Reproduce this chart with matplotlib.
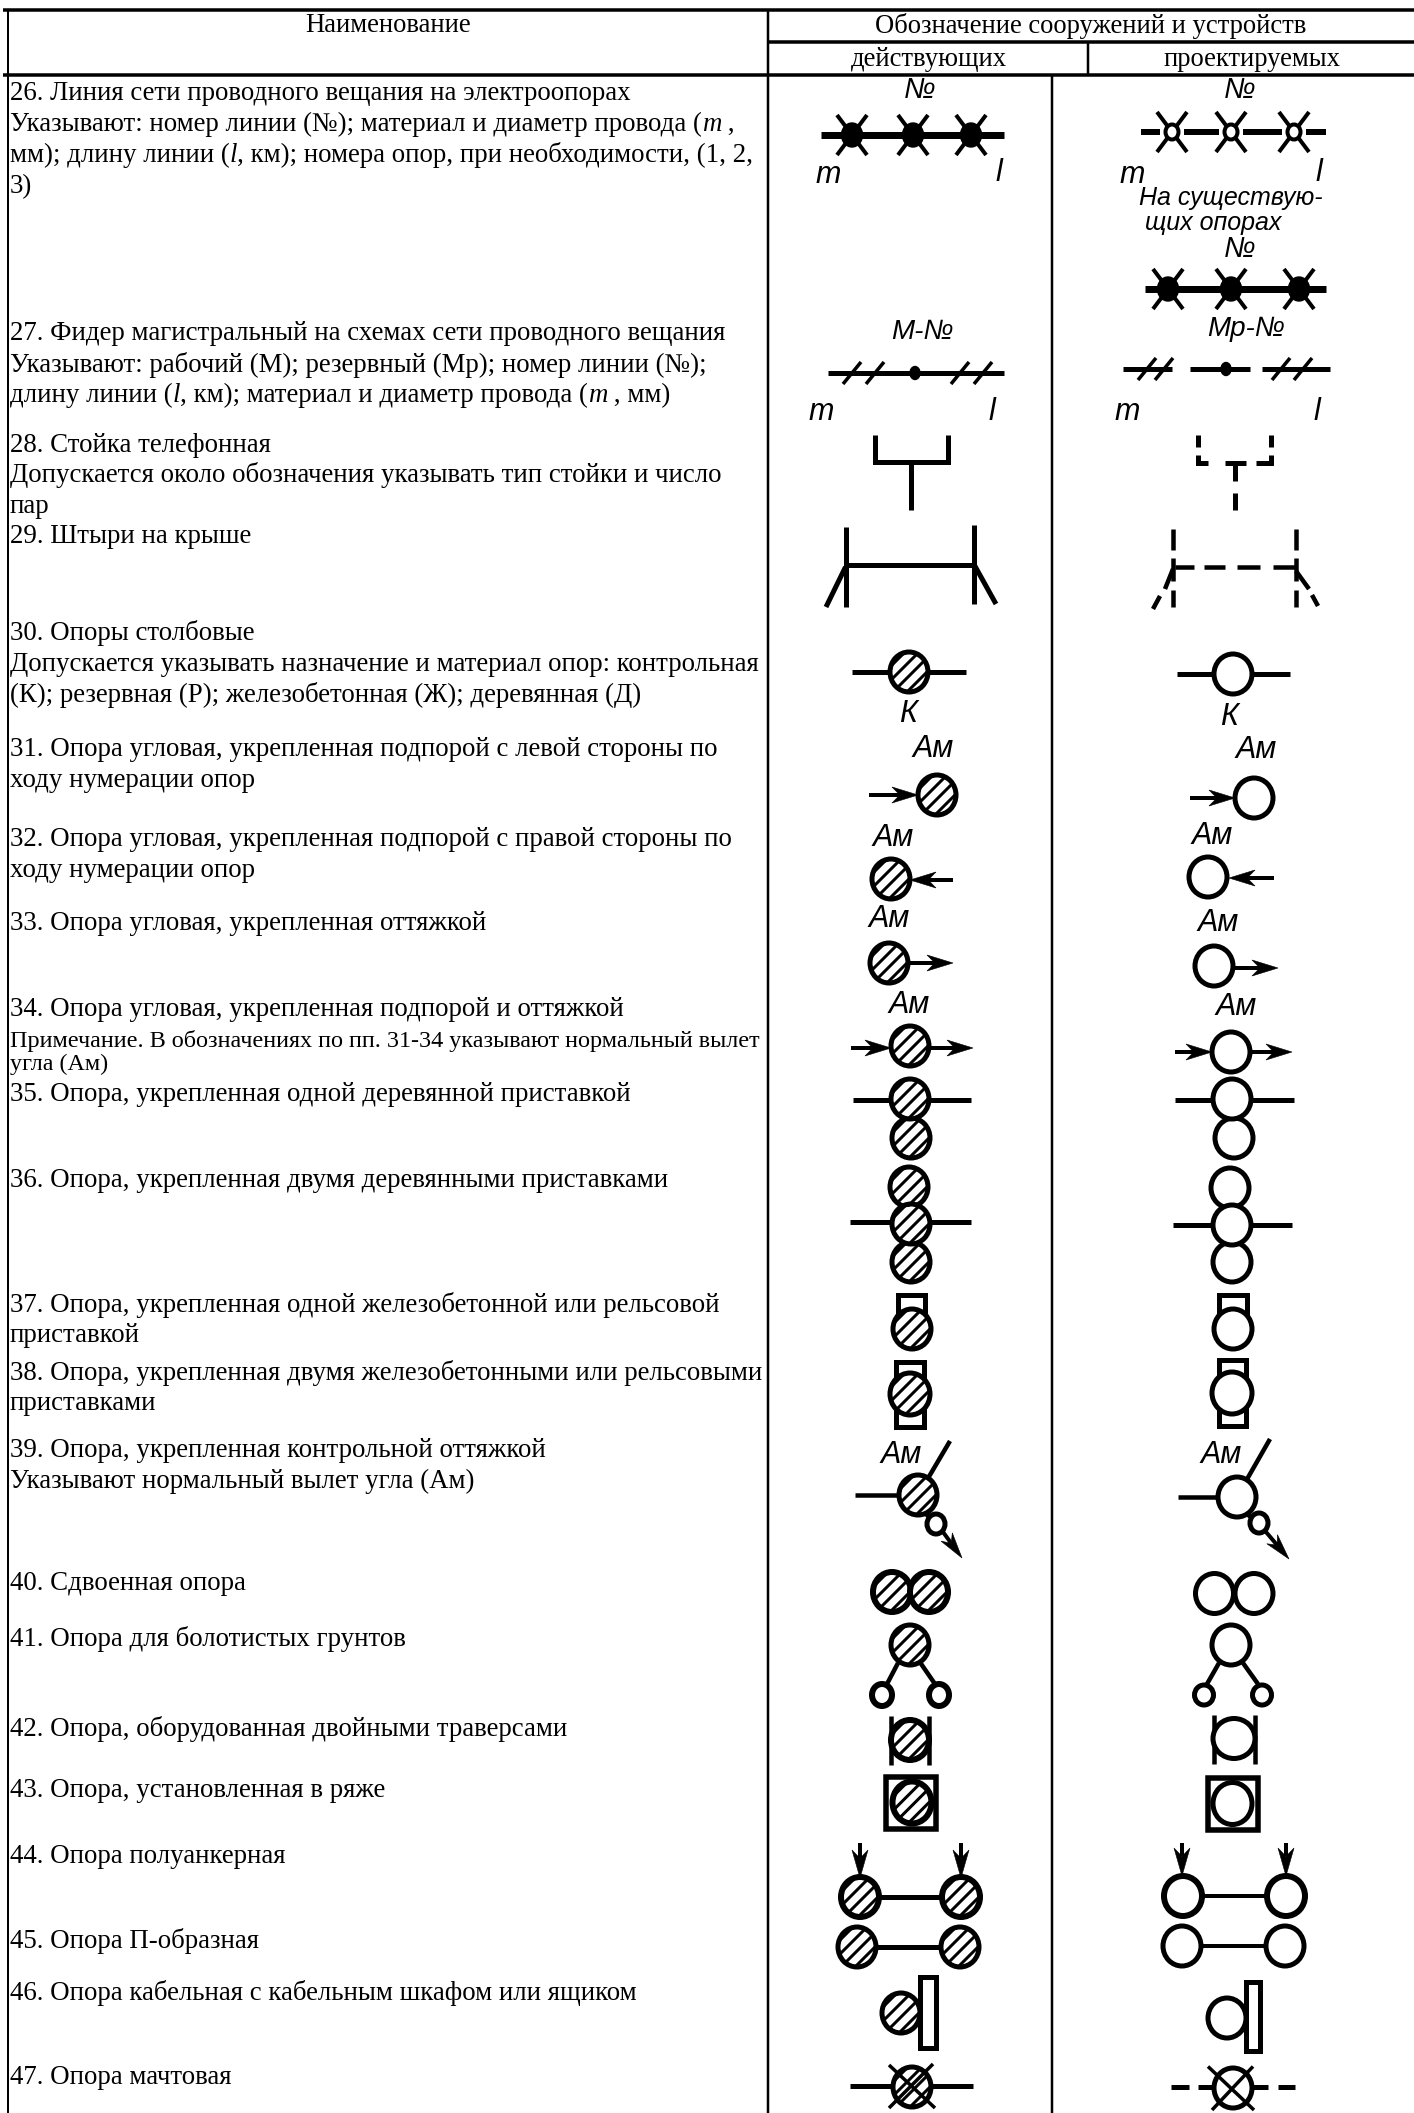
import numpy as np
import matplotlib
matplotlib.use("Agg")
import matplotlib.pyplot as plt
from matplotlib.patches import Ellipse, Rectangle, Polygon

W, H = 1414, 2113
SERIF = "Liberation Serif"
SANS = "Liberation Sans"

header_name = "Наименование"
header_group = "Обозначение сооружений и устройств"
header_active = "действующих"
header_planned = "проектируемых"

row_text = [
    "26. Линия сети проводного вещания на электроопорах",
    "Указывают: номер линии (№); материал и диаметр провода (*m* ,",
    "мм); длину линии (*l*, км); номера опор, при необходимости, (1, 2,",
    "3)",
    "27. Фидер магистральный на схемах сети проводного вещания",
    "Указывают: рабочий (М); резервный (Мр); номер линии (№);",
    "длину линии (*l*, км); материал и диаметр провода (*m* , мм)",
    "28. Стойка телефонная",
    "Допускается около обозначения указывать тип стойки и число",
    "пар",
    "29. Штыри на крыше",
    "30. Опоры столбовые",
    "Допускается указывать назначение и материал опор: контрольная",
    "(К); резервная (Р); железобетонная (Ж); деревянная (Д)",
    "31. Опора угловая, укрепленная подпорой с левой стороны по",
    "ходу нумерации опор",
    "32. Опора угловая, укрепленная подпорой с правой стороны по",
    "ходу нумерации опор",
    "33. Опора угловая, укрепленная оттяжкой",
    "34. Опора угловая, укрепленная подпорой и оттяжкой",
    "Примечание. В обозначениях по пп. 31-34 указывают нормальный вылет",
    "угла (Ам)",
    "35. Опора, укрепленная одной деревянной приставкой",
    "36. Опора, укрепленная двумя деревянными приставками",
    "37. Опора, укрепленная одной железобетонной или рельсовой",
    "приставкой",
    "38. Опора, укрепленная двумя железобетонными или рельсовыми",
    "приставками",
    "39. Опора, укрепленная контрольной оттяжкой",
    "Указывают нормальный вылет угла (Ам)",
    "40. Сдвоенная опора",
    "41. Опора для болотистых грунтов",
    "42. Опора, оборудованная двойными траверсами",
    "43. Опора, установленная в ряже",
    "44. Опора полуанкерная",
    "45. Опора П-образная",
    "46. Опора кабельная с кабельным шкафом или ящиком",
    "47. Опора мачтовая",
]
row_y_small = [90.5, 121.5, 152.5, 183.5, 330.5, 361.5, 392.5, 442.5, 472.5, 503.5, 533.5,
               630.5, 661.5, 692.5, 746.5, 777.5, 836.5, 867.5, 920.5, 1006.5, 1038, 1062,
               1091.5, 1177.5, 1301.5, 1332.5, 1369.5, 1400.5, 1447.5, 1478.5, 1580.5,
               1635.5, 1726.5, 1787.5, 1853.5, 1938.5, 1989.5, 2074.5]
small_rows = {20, 21}

fig = plt.figure(figsize=(W / 100, H / 100), dpi=100, facecolor="white")
ax = fig.add_axes([0, 0, 1, 1])
ax.set_xlim(0, W)
ax.set_ylim(H, 0)
ax.axis("off")


def px(v):
    return v * 0.72


def line(xs, ys, w=4.5, z=2):
    ax.plot(xs, ys, color="black", lw=px(w), solid_capstyle="butt",
            solid_joinstyle="miter", zorder=z)


def segs(items, w=4.5, z=2):
    for x0, y0, x1, y1 in items:
        line([x0, x1], [y0, y1], w, z)


def circ(cx, cy, rx=19, ry=20, hatch=False, w=5, z=4):
    e = Ellipse((cx, cy), 2 * rx, 2 * ry, fc="white", ec="black", lw=px(w), zorder=z)
    ax.add_patch(e)
    if hatch:
        for off in np.arange(-2 * rx, 2 * rx + 1, 14):
            l, = ax.plot([cx + off - ry * 1.1, cx + off + ry * 1.1],
                         [cy + ry * 1.1, cy - ry * 1.1],
                         color="black", lw=px(3), zorder=z + 0.1)
            l.set_clip_path(e)


def arrow(x0, y0, x1, y1, head=26, wid=8, w=4, z=3):
    v = np.array([x1 - x0, y1 - y0], float)
    n = np.hypot(*v)
    u = v / n
    p = np.array([-u[1], u[0]])
    tip = np.array([x1, y1], float)
    back = tip - u * head
    neck = tip - u * head * 0.7
    line([x0, neck[0]], [y0, neck[1]], w, z)
    ax.add_patch(Polygon([tip, back + p * wid, neck, back - p * wid], closed=True,
                         fc="black", ec="black", lw=0.4, zorder=z))


def sym_text(x, y, s, size=22):
    ax.text(x, y, s, family=SANS, style="italic", fontsize=size, ha="center",
            va="center", color="black", zorder=6)


def star(cx, cy, filled=True):
    dx, dy = 15, 20
    segs([(cx - dx, cy - dy, cx + dx, cy + dy), (cx + dx, cy - dy, cx - dx, cy + dy)], 4, 3)
    if filled:
        ax.add_patch(Ellipse((cx, cy), 21, 24, fc="black", ec="black", zorder=4))
    else:
        ax.add_patch(Ellipse((cx, cy), 13, 15, fc="white", ec="black", lw=px(4), zorder=4))


def ticks(x, y):
    segs([(x - 9, y + 11, x + 9, y - 11)], 3.5, 3)


renderer = fig.canvas.get_renderer()


def measure(s, style, size):
    t = ax.text(0, 0, s + "|", family=SERIF, style=style, fontsize=size)
    w = t.get_window_extent(renderer).width
    t.set_text("|")
    w -= t.get_window_extent(renderer).width
    t.remove()
    return w


def rich(x, y, s, size):
    for i, part in enumerate(s.split("*")):
        if not part:
            continue
        style = "italic" if i % 2 else "normal"
        ax.text(x, y, part, family=SERIF, style=style, fontsize=size, ha="left",
                va="center_baseline", color="black", zorder=6)
        x += measure(part, style, size)


# table rules
segs([(3, 10, W, 10)], 3.5)
segs([(3, 75, W, 75)], 3.5)
segs([(768, 42, W, 42)], 3.5)
segs([(8, 10, 8, H)], 2)
segs([(768, 10, 768, H), (1052, 75, 1052, H)], 2.5)
segs([(1088, 42, 1088, 75)], 2.5)

# header
HS = 19.2
for x, y, s in [(388, 26, header_name), (1091, 26, header_group),
                (929, 59, header_active), (1252, 59, header_planned)]:
    ax.text(x, y, s, family=SERIF, fontsize=HS, ha="center", va="center", color="black")

for i, (s, y) in enumerate(zip(row_text, row_y_small)):
    rich(10, y, s, 17.4 if i in small_rows else 19.35)

# 26
sym_text(920, 90, "№", 21)
line([821, 1004], [135, 135], 7)
for c in (852, 913, 971):
    star(c, 135)
sym_text(828, 175, "m")
sym_text(999, 173, "l")
sym_text(1240, 90, "№", 21)
for x0, x1 in [(1141, 1160), (1184, 1219), (1243, 1282), (1306, 1326)]:
    line([x0, x1], [132, 132], 6)
for c in (1172, 1231, 1294):
    star(c, 132, False)
sym_text(1132, 175, "m")
sym_text(1319, 173, "l")
sym_text(1231, 198, "На существую-", 18)
sym_text(1213, 223, "щих опорах", 18)
sym_text(1240, 249, "№", 21)
line([1145, 1326], [289, 289], 7)
for c in (1168, 1231, 1299):
    star(c, 289)

# 27
sym_text(922, 332, "М-№", 20)
line([828, 1004], [373, 373], 5)
ax.add_patch(Ellipse((915, 373), 10, 13, fc="black", ec="black", zorder=4))
for x in (852, 875, 960, 983):
    ticks(x, 373)
sym_text(821, 412, "m")
sym_text(992, 412, "l")
sym_text(1246, 329, "Мр-№", 20)
for x0, x1 in [(1123, 1172), (1190, 1250), (1262, 1330)]:
    line([x0, x1], [369, 369], 5)
ax.add_patch(Ellipse((1226, 369), 10, 13, fc="black", ec="black", zorder=4))
for x in (1147, 1164, 1281, 1303):
    ticks(x, 369)
sym_text(1127, 412, "m")
sym_text(1317, 412, "l")

# 28
line([875, 875, 948, 948], [435, 462, 462, 435], 5)
line([911, 911], [462, 510], 5)
line([1198, 1198], [435, 447], 5)
line([1198, 1198, 1208], [455, 463, 463], 5)
line([1225, 1246], [463, 463], 5)
line([1256, 1271, 1271], [463, 463, 455], 5)
line([1271, 1271], [447, 435], 5)
segs([(1235, 463, 1235, 481), (1235, 493, 1235, 510)], 5)

# 29
segs([(845.5, 527, 845.5, 607), (973.5, 525, 973.5, 604), (845, 565, 973, 565),
      (845.5, 567, 826, 607), (973.5, 563.5, 996, 604)], 5)
segs([(1173, 529, 1173, 550), (1173, 558, 1173, 581), (1173, 590, 1173, 607),
      (1296, 529, 1296, 550), (1296, 558, 1296, 581), (1296, 590, 1296, 607),
      (1175, 567, 1194, 567), (1204, 567, 1225, 567), (1237, 567, 1260, 567),
      (1273, 567, 1296, 567), (1173, 569, 1165, 589), (1160, 596, 1153, 609),
      (1296, 571, 1309, 589), (1312, 595, 1318, 606)], 4.5)

# 30
line([852, 966], [672, 672], 5)
circ(909, 672, hatch=True)
sym_text(908, 714, "К")
line([1177, 1290], [674, 674], 5)
circ(1233, 674)
sym_text(1229, 717, "К")

# 31-34
sym_text(933, 749, "Ам")
arrow(869, 795, 918, 795)
circ(937, 795, hatch=True)
sym_text(1256, 750, "Ам")
arrow(1190, 798, 1235, 798)
circ(1254, 798)
sym_text(893, 838, "Ам")
arrow(953, 880, 910, 880)
circ(891, 879, hatch=True)
sym_text(1212, 836, "Ам")
arrow(1274, 878, 1229, 878)
circ(1208, 877)
sym_text(889, 919, "Ам")
arrow(908, 963, 953, 963)
circ(889, 963, hatch=True)
sym_text(1218, 923, "Ам")
arrow(1233, 968, 1278, 968)
circ(1214, 966)
sym_text(909, 1005, "Ам")
arrow(851, 1048, 891, 1048)
arrow(929, 1048, 973, 1048)
circ(910, 1046, hatch=True)
sym_text(1236, 1007, "Ам")
arrow(1175, 1052, 1212, 1052)
arrow(1250, 1052, 1292, 1052)
circ(1231, 1052)

# 35-36
line([853, 971], [1100, 1100], 5)
circ(911, 1138, hatch=True)
circ(910, 1099, hatch=True)
line([1175, 1294], [1100, 1100], 5)
circ(1234, 1138)
circ(1232, 1099)
line([850, 971], [1222, 1222], 5)
circ(909, 1187, hatch=True)
circ(911, 1262, hatch=True)
circ(911, 1224, hatch=True)
line([1173, 1292], [1225, 1225], 5)
circ(1230, 1188)
circ(1232, 1262)
circ(1232, 1225)


def rect(x0, y0, x1, y1, w=5, z=2):
    ax.add_patch(Rectangle((x0, y0), x1 - x0, y1 - y0, fc="white", ec="black",
                           lw=px(w), zorder=z))


# 37-38
rect(898, 1295, 925, 1313)
circ(912, 1329, hatch=True)
rect(1219, 1295, 1247, 1313)
circ(1233, 1329)
rect(895.5, 1362, 923.5, 1427)
circ(910, 1394, 20, 21, hatch=True)
rect(1219, 1360, 1246, 1426)
circ(1232, 1393, 20, 21)

# 39
sym_text(901, 1455, "Ам")
segs([(950, 1441, 927, 1480), (855, 1495, 900, 1495), (925, 1513, 932, 1520)], 4.5)
circ(918, 1495, hatch=True)
circ(936, 1524, 9, 10)
arrow(943, 1532, 962, 1558, head=26, wid=7)
sym_text(1221, 1455, "Ам")
segs([(1270, 1439, 1246, 1481), (1178, 1497, 1220, 1497), (1246, 1513, 1254, 1520)], 4.5)
circ(1237, 1497)
circ(1259, 1523, 9, 10)
arrow(1266, 1532, 1289, 1559, head=26, wid=7)

# 40-41
circ(892, 1592, hatch=True, w=6)
circ(929, 1592, hatch=True, w=6)
circ(1214.5, 1593.5)
circ(1254, 1593.5)
segs([(898, 1663, 887, 1684), (920.5, 1663, 935, 1684)], 4.5)
circ(910, 1645, hatch=True)
circ(882, 1695, 10, 11, w=6)
circ(939, 1695, 10, 11, w=6)
segs([(1219, 1663, 1207, 1684), (1243, 1663, 1258, 1684)], 4.5)
circ(1231, 1645)
circ(1204, 1695, 9.5, 10)
circ(1262, 1695, 9.5, 10)

# 42-43
segs([(891, 1716, 891, 1765), (929, 1716, 929, 1765)], 4.5)
circ(910, 1740, hatch=True, w=6)
segs([(1214, 1715, 1214, 1764), (1255, 1715, 1255, 1764)], 4.5)
circ(1234, 1738.5, 21, 20)
rect(886, 1777, 936, 1829, w=5.5)
circ(912, 1802.5, 19.5, 21, hatch=True, w=6)
rect(1208, 1778, 1258, 1830, w=5.5)
circ(1232.5, 1803.5, 19.5, 21)

# 44-45
line([860, 961], [1897, 1897], 5)
arrow(860, 1843, 860, 1878, head=28, wid=8)
arrow(961, 1843, 961, 1878, head=28, wid=8)
circ(860, 1897, hatch=True, w=6)
circ(961, 1897, hatch=True, w=6)
line([1183, 1286], [1896, 1896], 4)
arrow(1182, 1843, 1182, 1876, head=28, wid=8)
arrow(1286, 1843, 1286, 1876, head=28, wid=8)
circ(1183, 1896, w=6)
circ(1286, 1896, w=6)
line([857, 960], [1947, 1947], 5)
circ(857, 1947, hatch=True)
circ(960, 1947, hatch=True)
line([1182, 1285], [1946, 1946], 4)
circ(1182, 1946)
circ(1285, 1946)

# 46
circ(901, 2013, hatch=True)
rect(920, 1977, 936, 2047.5, z=5)
circ(1227, 2018)
rect(1246, 1982, 1260, 2051, z=5)

# 47
line([850, 973], [2085.5, 2085.5], 5)
circ(912, 2087, hatch=True)
segs([(889, 2065, 935, 2108), (933, 2064, 889, 2108)], 3.5, 5)
for x0, x1 in [(1171, 1189), (1198, 1214.5), (1252, 1268), (1278, 1295)]:
    line([x0, x1], [2087, 2087], 5)
circ(1233, 2088)
segs([(1208, 2066.5, 1254, 2110), (1253, 2066.5, 1212, 2110)], 3.5, 5)

fig.savefig("out.png", dpi=100, facecolor="white")
